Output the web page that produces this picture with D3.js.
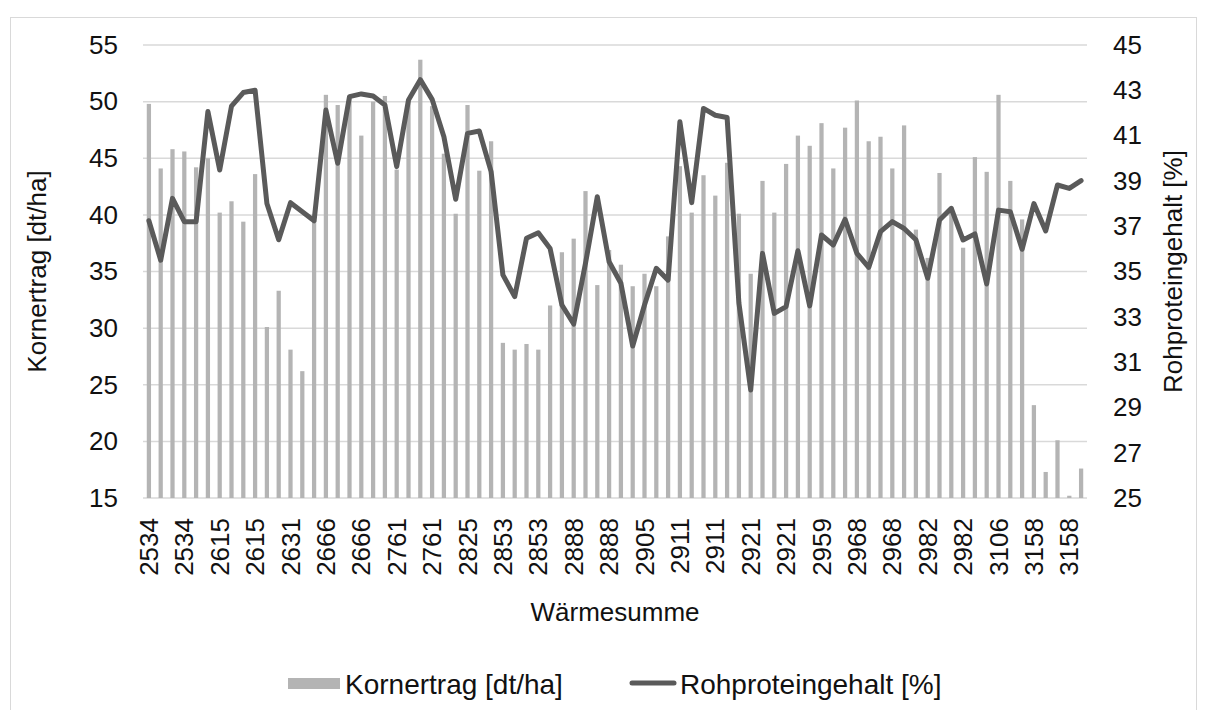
<!DOCTYPE html>
<html>
<head>
<meta charset="utf-8">
<script src="https://cdn.jsdelivr.net/npm/d3@7.9.0/dist/d3.min.js"></script>
<style>
  body { margin: 0; background: #fff; }
  text { font-family: "Liberation Sans", Arial, sans-serif; fill: #111; }
</style>
</head>
<body>
<svg id="chart"></svg>
<script>
// Wärmesumme per plot (only every 3rd one is labelled on the axis)
const waermesumme = [
  2534, 2534, 2534, 2534, 2534, 2534, 2615, 2615, 2615, 2615, 2615, 2615,
  2631, 2631, 2631, 2666, 2666, 2666, 2666, 2666, 2666, 2761, 2761, 2761,
  2761, 2761, 2761, 2825, 2825, 2825, 2853, 2853, 2853, 2853, 2853, 2853,
  2888, 2888, 2888, 2888, 2888, 2888, 2905, 2905, 2905, 2911, 2911, 2911,
  2911, 2911, 2911, 2921, 2921, 2921, 2921, 2921, 2921, 2959, 2959, 2959,
  2968, 2968, 2968, 2968, 2968, 2968, 2982, 2982, 2982, 2982, 2982, 2982,
  3106, 3106, 3106, 3158, 3158, 3158, 3158, 3158
];

// Kornertrag [dt/ha] (bars, left axis)
const kornertrag = [
  49.8, 44.1, 45.8, 45.6, 44.2, 45.0, 40.2, 41.2, 39.4, 43.6,
  30.1, 33.3, 28.1, 26.2, 39.5, 50.6, 49.7, 50.4, 47.0, 50.0,
  50.5, 44.0, 50.2, 53.7, 49.6, 45.4, 40.1, 49.7, 43.9, 46.5,
  28.7, 28.1, 28.6, 28.1, 32.0, 36.7, 37.9, 42.1, 33.8, 36.9,
  35.6, 33.7, 34.8, 33.7, 38.1, 44.3, 40.2, 43.5, 41.7, 44.6,
  40.1, 34.8, 43.0, 40.2, 44.5, 47.0, 46.1, 48.1, 44.1, 47.7,
  50.1, 46.5, 46.9, 44.1, 47.9, 38.7, 36.2, 43.7, 40.7, 37.1,
  45.1, 43.8, 50.6, 43.0, 39.6, 23.2, 17.3, 20.1, 15.2, 17.6
];

// Rohproteingehalt [%] (line, right axis)
const rohprotein = [
  37.24, 35.5, 38.23, 37.2, 37.2, 42.06, 39.48, 42.3, 42.9, 43.0,
  38.0, 36.4, 38.04, 37.64, 37.24, 42.13, 39.78, 42.72, 42.84, 42.75,
  42.35, 39.63, 42.57, 43.47, 42.6, 40.95, 38.19, 41.1, 41.2, 39.41,
  34.85, 33.89, 36.47, 36.71, 36.02, 33.52, 32.68, 35.36, 38.3, 35.43,
  34.48, 31.71, 33.52, 35.14, 34.62, 41.61, 38.04, 42.2, 41.9, 41.8,
  33.6, 29.77, 35.8, 33.15, 33.45, 35.92, 33.48, 36.61, 36.17, 37.3,
  35.8, 35.18, 36.76, 37.2, 36.9, 36.4, 34.7, 37.27, 37.79, 36.39,
  36.66, 34.45, 37.71, 37.64, 35.98, 38.0, 36.79, 38.82, 38.67, 39.01
];

const leftTicks = [15, 20, 25, 30, 35, 40, 45, 50, 55];
const rightTicks = [25, 27, 29, 31, 33, 35, 37, 39, 41, 43, 45];

const width = 1205;
const height = 710;
const plot = { left: 143, right: 1087, top: 45, bottom: 498 };

const svg = d3.select('#chart')
    .attr('width', width)
    .attr('height', height);

// chart area frame
svg.append('rect')
    .attr('x', 10.5)
    .attr('y', 17.5)
    .attr('width', 1186)
    .attr('height', 720)
    .attr('fill', 'none')
    .attr('stroke', '#d9d9d9')
    .attr('stroke-width', 1);

const idx = d3.range(kornertrag.length);

const xScale = d3.scaleBand()
    .domain(idx)
    .range([plot.left, plot.right])
    .paddingInner(0.64)
    .paddingOuter(0.32);

const yLeft = d3.scaleLinear()
    .domain([15, 55])
    .range([plot.bottom, plot.top]);

const yRight = d3.scaleLinear()
    .domain([25, 45])
    .range([plot.bottom, plot.top]);

// horizontal gridlines (left axis)
svg.append('g')
    .selectAll('line')
    .data(leftTicks)
    .join('line')
    .attr('x1', plot.left)
    .attr('x2', plot.right)
    .attr('y1', d => yLeft(d))
    .attr('y2', d => yLeft(d))
    .attr('stroke', '#d9d9d9')
    .attr('stroke-width', 1.5);

// bars
svg.append('g')
    .selectAll('rect')
    .data(kornertrag)
    .join('rect')
    .attr('x', (d, i) => xScale(i))
    .attr('y', d => yLeft(d))
    .attr('width', xScale.bandwidth())
    .attr('height', d => yLeft(15) - yLeft(d))
    .attr('fill', '#b4b4b4');

// line
const line = d3.line()
    .x((d, i) => xScale(i) + xScale.bandwidth() / 2)
    .y(d => yRight(d));

svg.append('path')
    .datum(rohprotein)
    .attr('d', line)
    .attr('fill', 'none')
    .attr('stroke', '#5a5a5a')
    .attr('stroke-width', 5)
    .attr('stroke-linejoin', 'round')
    .attr('stroke-linecap', 'round');

// left axis
const gLeft = svg.append('g')
    .attr('transform', `translate(${plot.left}, 0)`)
    .call(d3.axisLeft(yLeft).tickValues(leftTicks).tickSize(0).tickPadding(25));
gLeft.select('.domain').remove();
gLeft.selectAll('text').style('font-size', '26px').attr('fill', '#111');

// right axis
const gRight = svg.append('g')
    .attr('transform', `translate(${plot.right}, 0)`)
    .call(d3.axisRight(yRight).tickValues(rightTicks).tickSize(0).tickPadding(26));
gRight.select('.domain').remove();
gRight.selectAll('text').style('font-size', '26px').attr('fill', '#111');

// bottom axis, every 3rd category labelled
const gBottom = svg.append('g')
    .attr('transform', `translate(0, ${plot.bottom})`)
    .call(d3.axisBottom(xScale)
        .tickValues(idx.filter(i => i % 3 === 0))
        .tickFormat(i => waermesumme[i])
        .tickSize(0));
gBottom.select('.domain').remove();
gBottom.selectAll('text')
    .style('font-size', '26px')
    .attr('fill', '#111')
    .attr('transform', 'rotate(-90)')
    .attr('x', -20)
    .attr('y', 0)
    .attr('dy', '0.35em')
    .attr('text-anchor', 'end');

// axis titles
svg.append('text')
    .attr('transform', `translate(37, ${(plot.top + plot.bottom) / 2}) rotate(-90)`)
    .attr('text-anchor', 'middle')
    .attr('dominant-baseline', 'central')
    .style('font-size', '26px')
    .text('Kornertrag [dt/ha]');

svg.append('text')
    .attr('transform', `translate(1173, ${(plot.top + plot.bottom) / 2}) rotate(-90)`)
    .attr('text-anchor', 'middle')
    .attr('dominant-baseline', 'central')
    .style('font-size', '26px')
    .text('Rohproteingehalt [%]');

svg.append('text')
    .attr('x', (plot.left + plot.right) / 2)
    .attr('y', 621)
    .attr('text-anchor', 'middle')
    .style('font-size', '26px')
    .text('Wärmesumme');

// legend
const legend = svg.append('g');
legend.append('rect')
    .attr('x', 288)
    .attr('y', 678)
    .attr('width', 52)
    .attr('height', 11)
    .attr('fill', '#b4b4b4');
legend.append('text')
    .attr('x', 345)
    .attr('y', 684)
    .attr('dominant-baseline', 'central')
    .style('font-size', '28px')
    .text('Kornertrag [dt/ha]');
legend.append('line')
    .attr('x1', 632)
    .attr('x2', 674)
    .attr('y1', 683)
    .attr('y2', 683)
    .attr('stroke', '#5a5a5a')
    .attr('stroke-width', 5)
    .attr('stroke-linecap', 'round');
legend.append('text')
    .attr('x', 680)
    .attr('y', 684)
    .attr('dominant-baseline', 'central')
    .style('font-size', '28px')
    .text('Rohproteingehalt [%]');
</script>
</body>
</html>
